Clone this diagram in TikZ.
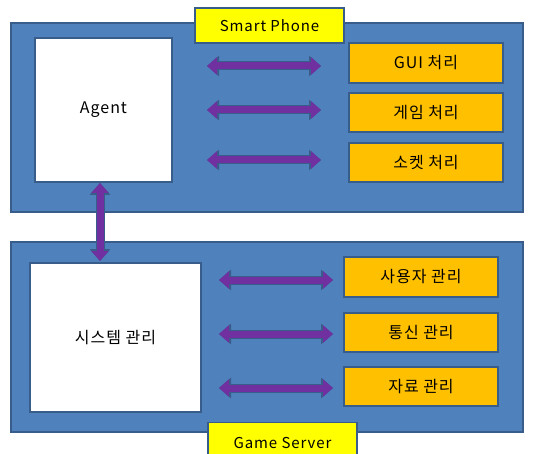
\documentclass[tikz,border=0pt]{standalone}
\usepackage{fontspec}
\setmainfont{Noto Sans CJK KR}[LetterSpace=6]
\usetikzlibrary{arrows.meta}
\definecolor{panelblue}{HTML}{4F81BD}
\definecolor{edgeblue}{HTML}{385D8A}
\definecolor{boxorange}{HTML}{FFC000}
\definecolor{tagyellow}{HTML}{FFFF00}
\definecolor{arrowpurple}{HTML}{7030A0}
\tikzset{
  panel/.style={draw=edgeblue, fill=panelblue, line width=1.6pt},
  whitebox/.style={draw=edgeblue, fill=white, line width=1.2pt, font=\fontsize{16}{18}\selectfont},
  orangebox/.style={draw=edgeblue, fill=boxorange, line width=1.2pt, font=\fontsize{16}{18}\selectfont},
  tagbox/.style={draw=edgeblue, fill=tagyellow, line width=1.2pt, font=\fontsize{15}{17}\selectfont},
  link/.style={draw=arrowpurple, line width=7pt,
    {Triangle[width=17pt,length=10pt]}-{Triangle[width=17pt,length=10pt]},
    preaction={draw=edgeblue, line width=9pt, {Triangle[width=20pt,length=12pt]}-{Triangle[width=20pt,length=12pt]}}},
}
\begin{document}
\begin{tikzpicture}[x=1pt,y=-1pt]
\useasboundingbox (0,0) rectangle (537,454);
% panels
\path[panel] (11,23) rectangle (523,212);
\path[panel] (11,242) rectangle (523,432);
% top panel
\node[tagbox, minimum width=149pt, minimum height=35pt, inner sep=0pt] (phone) at (269.5,25.5) {Smart Phone};
\node[whitebox, minimum width=137pt, minimum height=144pt, inner sep=0pt] (agent) at (103.5,110) {Agent};
\node[orangebox, minimum width=154pt, minimum height=40pt, inner sep=0pt] (gui) at (426,63) {GUI 처리};
\node[orangebox, minimum width=154pt, minimum height=39pt, inner sep=0pt] (game) at (426,112.5) {게임 처리};
\node[orangebox, minimum width=154pt, minimum height=39pt, inner sep=0pt] (sock) at (426,162.5) {소켓 처리};
% bottom panel
\node[whitebox, minimum width=171pt, minimum height=149pt, inner sep=0pt] (sys) at (115.5,337.5) {시스템 관리};
\node[orangebox, minimum width=154pt, minimum height=40pt, inner sep=0pt] (user) at (421,277) {사용자 관리};
\node[orangebox, minimum width=154pt, minimum height=39pt, inner sep=0pt] (comm) at (421,332.5) {통신 관리};
\node[orangebox, minimum width=154pt, minimum height=39pt, inner sep=0pt] (data) at (421,386.5) {자료 관리};
\node[tagbox, minimum width=149pt, minimum height=40pt, inner sep=0pt, anchor=north] (server) at (282.5,422) {Game Server};
% arrow end points
\coordinate (a1) at (207,66);  \coordinate (b1) at (321,66);
\coordinate (a2) at (207,110); \coordinate (b2) at (321,110);
\coordinate (a3) at (207,160); \coordinate (b3) at (321,160);
\coordinate (c1) at (219,280); \coordinate (d1) at (333,280);
\coordinate (c2) at (219,334); \coordinate (d2) at (333,334);
\coordinate (c3) at (219,388); \coordinate (d3) at (333,388);
\coordinate (v1) at (100,183); \coordinate (v2) at (100,261);
\draw[link] (a1) -- (b1);
\draw[link] (a2) -- (b2);
\draw[link] (a3) -- (b3);
\draw[link] (c1) -- (d1);
\draw[link] (c2) -- (d2);
\draw[link] (c3) -- (d3);
\draw[link] (v1) -- (v2);
\end{tikzpicture}
\end{document}
